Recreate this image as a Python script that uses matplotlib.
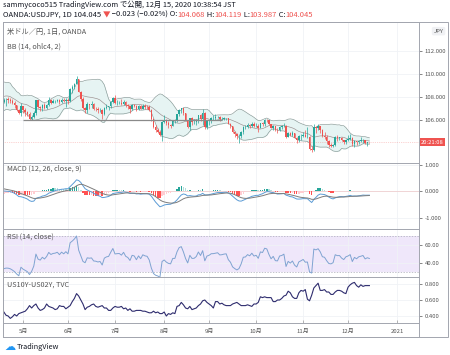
import matplotlib
matplotlib.use("Agg")
import matplotlib.pyplot as plt
from matplotlib.patches import Rectangle
from matplotlib.transforms import blended_transform_factory
import numpy as np
import pandas as pd

plt.rcParams['font.family'] = ['Noto Sans CJK JP', 'DejaVu Sans']

# USD/JPY daily bars, 2020-04-20 .. 2020-12-15 (weekdays)
opens = [107.55, 107.73, 107.78, 107.77, 107.68, 107.50, 107.27, 106.90, 106.60,
         107.18, 106.91, 106.73, 106.54, 106.08, 106.29, 106.65, 107.73, 107.13, 107.00, 107.28,
         107.08, 107.31, 107.73, 107.52, 107.62, 107.65, 107.73, 107.53, 107.74, 107.61,
         107.78, 107.62, 108.68, 108.89, 109.16, 109.59, 108.43, 107.79, 107.06, 106.86, 107.38,
         107.33, 107.36, 106.99, 106.96, 106.87, 106.91, 106.51, 107.06, 107.17, 107.21, 107.57,
         107.93, 107.46, 107.49, 107.50, 107.37, 107.59, 107.28, 107.18, 106.93, 107.29, 107.24,
         106.94, 107.20, 106.98, 107.25, 107.17, 107.14, 106.87, 106.10, 105.37, 105.09, 104.97, 104.73,
         105.83, 105.96, 105.72, 105.57, 105.52, 105.93, 105.93, 106.48, 106.90, 107.00, 106.58,
         105.95, 105.43, 106.15, 105.79, 105.80, 105.96, 106.41, 106.06, 106.57, 105.36,
         105.90, 105.99, 106.17, 106.18, 106.23, 106.27, 106.07, 106.09, 106.14, 106.16, 105.68,
         105.44, 104.94, 104.74, 104.57, 104.65, 104.93, 105.39, 105.41, 105.58, 105.49, 105.67,
         105.47, 105.52, 105.31, 105.73, 105.69, 106.00, 105.96, 105.62, 105.31, 105.46, 105.14,
         105.12, 105.41, 105.44, 105.52, 104.55, 104.87, 104.71, 104.84, 104.46, 104.27, 104.58,
         104.65, 104.73, 104.51, 104.52, 103.51, 103.36, 105.39, 105.30, 105.44, 105.14, 104.62,
         104.56, 104.17, 103.82, 103.77, 103.86, 104.55, 104.46, 104.47, 104.23, 104.09,
         104.30, 104.36, 104.46, 103.87, 104.17, 104.05, 104.19, 104.23, 104.28, 104.03, 104.07]
highs = [107.95, 107.90, 107.98, 107.94, 107.82, 107.62, 107.32, 106.98, 107.48,
         107.20, 107.00, 106.80, 106.66, 106.44, 106.75, 107.77, 107.78, 107.20, 107.35, 107.45,
         107.43, 107.96, 107.83, 107.80, 107.75, 107.85, 107.83, 107.95, 107.92, 107.89,
         107.90, 108.80, 109.00, 109.20, 109.85, 109.60, 108.55, 107.98, 107.12, 107.55, 107.40,
         107.64, 107.50, 107.14, 107.14, 107.00, 106.93, 107.14, 107.40, 107.25, 107.68, 108.00,
         108.16, 107.72, 107.62, 107.79, 107.71, 107.69, 107.38, 107.24, 107.40, 107.42, 107.32,
         107.31, 107.30, 107.40, 107.37, 107.31, 107.27, 106.92, 106.14, 105.60, 105.28, 105.09, 105.89,
         106.47, 106.11, 105.92, 105.69, 106.01, 106.10, 106.55, 106.95, 107.05, 107.03, 106.60,
         106.00, 106.20, 106.22, 106.08, 106.05, 106.46, 106.52, 106.95, 106.67, 105.92,
         106.00, 106.24, 106.43, 106.50, 106.33, 106.38, 106.25, 106.30, 106.20, 106.21, 105.73,
         105.52, 105.03, 104.86, 104.76, 105.05, 105.46, 105.53, 105.70, 105.62, 105.80, 105.80,
         105.70, 105.68, 105.77, 105.80, 106.11, 106.11, 106.01, 105.68, 105.53, 105.49, 105.33,
         105.50, 105.54, 105.72, 105.55, 104.94, 104.92, 105.04, 104.87, 104.50, 104.66, 104.80,
         104.92, 105.14, 105.35, 104.61, 103.76, 105.65, 105.48, 105.67, 105.50, 105.20, 104.98,
         104.70, 104.24, 103.99, 103.93, 104.65, 104.72, 104.55, 104.52, 104.27, 104.37,
         104.68, 104.77, 104.52, 104.22, 104.21, 104.24, 104.55, 104.38, 104.30, 104.12, 104.12]
lows = [107.45, 107.22, 107.50, 107.46, 107.42, 107.00, 106.75, 106.52, 106.36,
        106.63, 106.37, 106.35, 105.99, 105.98, 106.13, 106.45, 107.02, 106.76, 106.75, 106.93,
        106.95, 107.20, 107.43, 107.46, 107.44, 107.59, 107.40, 107.50, 107.56, 107.09,
        107.40, 107.56, 108.35, 108.71, 109.10, 108.40, 107.65, 106.95, 106.58, 106.65, 106.98,
        107.08, 106.88, 106.78, 106.65, 106.66, 106.07, 106.44, 106.94, 106.90, 107.05, 107.45,
        107.36, 107.30, 107.40, 107.27, 107.30, 107.15, 106.98, 106.64, 106.88, 107.12, 106.75,
        106.85, 106.93, 106.92, 106.94, 106.98, 106.80, 105.95, 105.30, 104.98, 104.87, 104.59, 104.19,
        105.71, 105.53, 105.30, 105.29, 105.44, 105.71, 105.84, 106.39, 106.65, 106.45, 105.89,
        105.26, 105.10, 105.57, 105.61, 105.59, 105.75, 105.92, 105.60, 105.20, 105.19,
        105.58, 105.78, 106.03, 105.98, 106.16, 105.94, 105.98, 105.97, 106.01, 105.62, 105.32,
        104.87, 104.52, 104.37, 104.00, 104.47, 104.81, 105.22, 105.29, 105.33, 105.42, 105.40,
        105.36, 104.94, 105.30, 105.48, 105.48, 105.82, 105.53, 105.28, 105.13, 105.02, 104.91,
        105.08, 105.22, 105.35, 104.46, 104.48, 104.60, 104.65, 104.40, 104.02, 104.10, 104.28,
        104.53, 104.48, 104.40, 103.43, 103.18, 103.29, 104.85, 105.11, 104.85, 104.50, 104.37,
        103.95, 103.68, 103.62, 103.65, 103.70, 104.21, 104.25, 104.21, 103.93, 103.87,
        104.20, 104.22, 103.70, 103.66, 103.82, 103.95, 104.06, 104.04, 103.90, 103.77, 103.99]
closes = [107.73, 107.78, 107.77, 107.68, 107.50, 107.27, 106.90, 106.60, 107.18,
          106.91, 106.73, 106.54, 106.08, 106.29, 106.65, 107.73, 107.13, 107.00, 107.28, 107.08,
          107.31, 107.73, 107.52, 107.62, 107.65, 107.73, 107.53, 107.74, 107.61, 107.78,
          107.62, 108.68, 108.89, 109.16, 109.59, 108.43, 107.79, 107.06, 106.86, 107.38, 107.33,
          107.36, 106.99, 106.96, 106.87, 106.91, 106.51, 107.06, 107.17, 107.21, 107.57, 107.93,
          107.46, 107.49, 107.50, 107.37, 107.59, 107.28, 107.18, 106.93, 107.29, 107.24, 106.94,
          107.20, 106.98, 107.25, 107.17, 107.14, 106.87, 106.10, 105.37, 105.09, 104.97, 104.73, 105.83,
          105.96, 105.72, 105.57, 105.52, 105.93, 105.93, 106.48, 106.90, 107.00, 106.58, 105.95,
          105.43, 106.15, 105.79, 105.80, 105.96, 106.41, 106.06, 106.57, 105.36, 105.90,
          105.99, 106.17, 106.18, 106.23, 106.27, 106.07, 106.09, 106.14, 106.16, 105.68, 105.44,
          104.94, 104.74, 104.57, 104.65, 104.93, 105.39, 105.41, 105.58, 105.49, 105.67, 105.47,
          105.52, 105.31, 105.73, 105.69, 106.00, 105.96, 105.62, 105.31, 105.46, 105.14, 105.12,
          105.41, 105.44, 105.52, 104.55, 104.87, 104.71, 104.84, 104.46, 104.27, 104.58, 104.65,
          104.73, 104.51, 104.52, 103.51, 103.36, 105.39, 105.30, 105.44, 105.14, 104.62, 104.56,
          104.17, 103.82, 103.77, 103.86, 104.55, 104.46, 104.47, 104.23, 104.09, 104.30,
          104.36, 104.46, 103.87, 104.17, 104.05, 104.19, 104.23, 104.28, 104.03, 104.10, 104.05]
# closes before the visible window (2020-03-31 .. 04-17), only to seed the indicators
warmup_closes = [107.54, 107.21, 107.88, 108.48, 109.22, 108.76, 108.84,
                 108.46, 108.46, 107.75, 107.15, 107.46, 107.93, 107.53]

# US10Y - US02Y spread, same dates
spread = [0.45, 0.41, 0.40, 0.37, 0.39, 0.42, 0.40, 0.43, 0.44,
          0.45, 0.46, 0.49, 0.53, 0.50, 0.53, 0.55, 0.50, 0.47, 0.48, 0.50,
          0.55, 0.52, 0.51, 0.50, 0.48, 0.49, 0.53, 0.52, 0.52, 0.49,
          0.51, 0.53, 0.58, 0.62, 0.68, 0.65, 0.60, 0.55, 0.48, 0.51, 0.52,
          0.54, 0.55, 0.52, 0.51, 0.52, 0.53, 0.50, 0.50, 0.47, 0.47, 0.50,
          0.52, 0.51, 0.51, 0.52, 0.49, 0.50, 0.47, 0.49, 0.46, 0.46, 0.47,
          0.47, 0.47, 0.46, 0.46, 0.45, 0.44, 0.44, 0.46, 0.44, 0.45, 0.43, 0.43,
          0.45, 0.40, 0.43, 0.42, 0.44, 0.43, 0.52, 0.53, 0.57, 0.54, 0.50,
          0.49, 0.52, 0.48, 0.49, 0.50, 0.53, 0.55, 0.59, 0.60, 0.57,
          0.55, 0.53, 0.50, 0.58, 0.58, 0.55, 0.56, 0.54, 0.53, 0.53, 0.53,
          0.55, 0.56, 0.57, 0.55, 0.53, 0.53, 0.53, 0.54, 0.53, 0.52, 0.55,
          0.55, 0.57, 0.64, 0.63, 0.64, 0.63, 0.63, 0.63, 0.58, 0.58, 0.60,
          0.60, 0.62, 0.65, 0.66, 0.71, 0.69, 0.64, 0.62, 0.62, 0.69, 0.72,
          0.71, 0.73, 0.61, 0.59, 0.66, 0.75, 0.78, 0.81, 0.72, 0.72, 0.73,
          0.70, 0.70, 0.67, 0.67, 0.70, 0.72, 0.72, 0.71, 0.69, 0.68,
          0.76, 0.79, 0.81, 0.82, 0.78, 0.76, 0.79, 0.77, 0.78, 0.78, 0.78]

support_level = 106.0
support_from, support_to = "2020-05-01", "2020-09-09"
price_ticks = [106, 108, 110, 112]
macd_ticks = [-1, 0, 1]
rsi_ticks = [40, 60]
spread_ticks = [0.4, 0.6, 0.8]

W, H = 450, 355
UP, DOWN = '#26a69a', '#ef5350'
GRID = '#f0f2f6'
FRAME = '#a3a6af'


def rect(x0, y0, x1, y1):
    return [x0 / W, 1 - y1 / H, (x1 - x0) / W, (y1 - y0) / H]


dates = pd.bdate_range("2020-04-20", "2020-12-15")
x = np.arange(len(dates))
axis_dates = pd.bdate_range("2020-04-20", "2021-01-01")
month_pos = [i for i in range(1, len(axis_dates)) if axis_dates[i].month != axis_dates[i - 1].month]
month_lab = [str(axis_dates[i].year) if axis_dates[i].month == 1 else f"{axis_dates[i].month}月"
             for i in month_pos]

o, h, l, c = (np.array(v) for v in (opens, highs, lows, closes))
nw = len(warmup_closes)

# Bollinger bands on ohlc4
src = pd.Series(np.concatenate([warmup_closes, (o + h + l + c) / 4]))
basis = src.rolling(14, min_periods=1).mean()
dev = src.rolling(14, min_periods=1).std(ddof=0)
bb_mid = basis.values[nw:]
bb_up = (basis + 2 * dev).values[nw:]
bb_lo = (basis - 2 * dev).values[nw:]

# MACD
cl = pd.Series(np.concatenate([warmup_closes, c]))
macd = cl.ewm(span=12, adjust=False).mean() - cl.ewm(span=26, adjust=False).mean()
sig = macd.ewm(span=9, adjust=False).mean()
hist = (macd - sig).values[nw:]
macd_v, sig_v = macd.values[nw:], sig.values[nw:]

# RSI (Wilder)
d = cl.diff()
up = d.clip(lower=0).ewm(alpha=1 / 14, adjust=False).mean()
dn = (-d.clip(upper=0)).ewm(alpha=1 / 14, adjust=False).mean()
rsi = (100 - 100 / (1 + up / dn)).values[nw:]

fig = plt.figure(figsize=(W / 100, H / 100), dpi=100)
fig.patch.set_facecolor('white')

xl = (-0.4, 194.2)


def panel(y0, y1, ylim, ticks, fmt):
    ax = fig.add_axes(rect(3, y0, 419, y1))
    ax.set_xlim(*xl)
    ax.set_ylim(*ylim)
    ax.yaxis.tick_right()
    ax.set_yticks(ticks)
    ax.set_yticklabels([fmt.format(t) for t in ticks])
    ax.tick_params(axis='y', labelsize=4.3, colors='#555555', length=2, pad=2, width=0.5)
    ax.set_xticks(month_pos)
    ax.tick_params(axis='x', length=0, labelbottom=False)
    ax.grid(True, color=GRID, lw=0.6)
    ax.set_axisbelow(True)
    for s in ax.spines.values():
        s.set_color(FRAME)
        s.set_linewidth(0.7)
    return ax


# main price pane
ax = panel(22, 163, (102.26, 114.52), price_ticks, "{:.3f}")
ax.fill_between(x, bb_lo, bb_up, color='#e6f4f3', lw=0, zorder=1)
ax.plot(x, bb_up, color='#849794', lw=0.45, zorder=2)
ax.plot(x, bb_lo, color='#849794', lw=0.45, zorder=2)
ax.plot(x, bb_mid, color='#9a8c8c', lw=0.45, zorder=2)
col = np.where(c >= o, UP, DOWN)
ax.vlines(x, l, h, colors=col, lw=0.5, zorder=3)
body = np.maximum(np.abs(c - o), 0.03)
ax.bar(x, body, bottom=np.minimum(o, c), width=0.7, color=col, lw=0, zorder=4)
i0, i1 = dates.get_loc(pd.Timestamp(support_from)), dates.get_loc(pd.Timestamp(support_to))
ax.hlines(support_level, i0, i1, color='#8a8a8a', lw=0.9, zorder=5)
ax.axhline(c[-1], color=DOWN, ls=':', lw=0.5, alpha=0.5)
tr = blended_transform_factory(ax.transAxes, ax.transData)
ax.text(1.005, c[-1], "20:21:08", transform=tr, fontsize=4.2, color='white', va='center', ha='left',
        bbox=dict(boxstyle='square,pad=0.25', fc=DOWN, ec='none'))
ax.text(0.01, 0.92, "米ドル／円, 1日, OANDA", transform=ax.transAxes, fontsize=5.2, color='#555555')
ax.text(0.01, 0.855, "BB (14, ohlc4, 2)", transform=ax.transAxes, fontsize=5.2, color='#555555', va='top')
ax.text(1.035, 0.935, "JPY", transform=ax.transAxes, fontsize=4.2, color='#555555', va='center',
        bbox=dict(boxstyle='round,pad=0.3', fc='#f0f1f4', ec='none'))

# MACD pane
ax2 = panel(163, 229, (-1.415, 1.075), macd_ticks, "{:.3f}")
prev = np.concatenate([[hist[0]], hist[:-1]])
hcol = np.where(hist >= 0, np.where(hist >= prev, '#26a69a', '#b2dfdb'),
                np.where(hist < prev, '#ff5252', '#ffcdd2'))
ax2.bar(x, hist, width=0.7, color=hcol, lw=0, zorder=2)
ax2.axhline(0, color='#f0c8c8', lw=0.5, zorder=1)
ax2.plot(x, macd_v, color='#5b9bd5', lw=0.7, zorder=3)
ax2.plot(x, sig_v, color='#7d7d7d', lw=0.7, zorder=3)
ax2.text(0.01, 0.88, "MACD (12, 26, close, 9)", transform=ax2.transAxes, fontsize=5.2, color='#555555')

# RSI pane
ax3 = panel(229, 277, (24.4, 77.8), rsi_ticks, "{:.2f}")
ax3.axhspan(30, 70, color='#efe7fa', lw=0, zorder=0)
ax3.axhline(70, color='#a9a9b8', lw=0.5, ls=(0, (2, 2)))
ax3.axhline(30, color='#a9a9b8', lw=0.5, ls=(0, (2, 2)))
ax3.plot(x, rsi, color='#7fa3d1', lw=0.7, zorder=3)
ax3.text(0.01, 0.80, "RSI (14, close)", transform=ax3.transAxes, fontsize=5.2, color='#555555')

# spread pane
ax4 = panel(277, 323, (0.3125, 0.8875), spread_ticks, "{:.3f}")
ax4.plot(x, spread, color='#2e2c6e', lw=0.8, zorder=3)
ax4.text(0.01, 0.78, "US10Y-US02Y, TVC", transform=ax4.transAxes, fontsize=5.2, color='#555555')

# time scale
axt = fig.add_axes(rect(3, 323, 419, 337))
axt.set_xlim(*xl)
axt.set_ylim(0, 1)
axt.set_yticks([])
axt.set_xticks(month_pos)
axt.tick_params(axis='x', length=2, width=0.5, colors='#999999', labelbottom=False, top=True, bottom=False)
for p, lab in zip(month_pos, month_lab):
    axt.text(p, 0.42, lab, fontsize=4.3, color='#555555', ha='center', va='center')
for s in axt.spines.values():
    s.set_color(FRAME)
    s.set_linewidth(0.7)

# outer frame incl. price scale
fig.patches.append(Rectangle((3 / W, 1 - 337 / H), 445 / W, 315 / H, transform=fig.transFigure,
                             fill=False, ec=FRAME, lw=0.7))

# header
rend = fig.canvas.get_renderer()


def text_run(px, py, pieces, size):
    for s, colr in pieces:
        t = fig.text(px / W, 1 - py / H, s, color=colr, fontsize=size, va='center', ha='left')
        px += t.get_window_extent(renderer=rend).width


DARK = '#131722'
text_run(3, 5, [("sammycoco515 TradingView.com で公開, 12月 15, 2020 10:38:54 JST", DARK)], 5.3)
text_run(3, 15, [("OANDA:USDJPY, 1D 104.045 ", DARK), ("▼", DOWN), (" −0.023 (−0.02%) O:", DARK),
                 ("104.068", DOWN), (" H:", DARK), ("104.119", DOWN), (" L:", DARK),
                 ("103.987", DOWN), (" C:", DARK), ("104.045", DOWN)], 5.45)

# footer logo
fig.text(4 / W, 1 - 347 / H, "☁", fontsize=8, color='#2196f3', va='center', ha='left', family='DejaVu Sans')
fig.text(17 / W, 1 - 347 / H, "TradingView", fontsize=5.3, color=DARK, va='center', ha='left')

fig.savefig("out.png", dpi=100)
